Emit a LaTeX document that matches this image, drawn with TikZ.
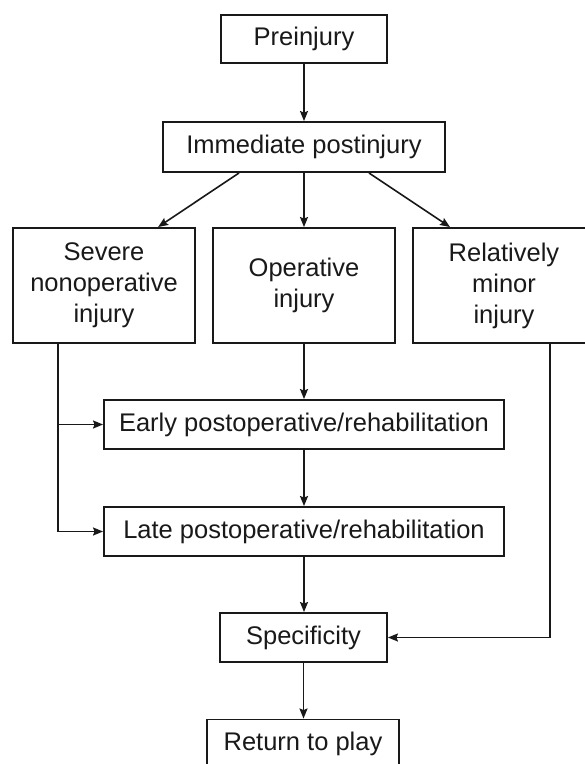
\documentclass[tikz,border=0pt]{standalone}
\usepackage{fontspec}
\setmainfont{Liberation Sans}
\usetikzlibrary{arrows.meta}
\begin{document}
\begin{tikzpicture}[x=1pt,y=-1pt,
  box/.style={draw=black!90, line width=1.9pt, align=center, inner sep=0pt,
    font=\fontsize{25.5}{31}\selectfont, text=black!90},
  arr/.style={line width=1.6pt, draw=black!90, -{Stealth[length=10pt,width=8pt,inset=1.5pt]}},
  ln/.style={line width=1.6pt, draw=black!90}]
\useasboundingbox[fill=white] (0,0) rectangle (585,764);
\node[box, minimum width=166pt, minimum height=48pt] (pre) at (304,39) {Preinjury};
\node[box, minimum width=282pt, minimum height=50pt] (imm) at (304,147) {Immediate postinjury};
\node[box, minimum width=182pt, minimum height=115pt] (sev) at (104,285.5) {Severe\\nonoperative\\injury};
\node[box, minimum width=182pt, minimum height=115pt] (op) at (304,285.5) {Operative\\injury};
\node[box, minimum width=182pt, minimum height=115pt] (rel) at (504,285.5) {Relatively\\minor\\injury};
\node[box, minimum width=400pt, minimum height=49pt] (early) at (304,424.5) {Early postoperative/rehabilitation};
\node[box, minimum width=400pt, minimum height=49pt] (late) at (304,531.5) {Late postoperative/rehabilitation};
\node[box, minimum width=167pt, minimum height=49pt] (spec) at (303.5,637.5) {Specificity};
\node[box, minimum width=192pt, minimum height=49pt] (ret) at (303,744) {Return to play};
\draw[arr] (pre) -- (pre.south |- imm.north);
\draw[arr] ([xshift=77pt]imm.south west) -- ([xshift=146pt]sev.north west);
\draw[arr] (imm.south) -- (imm.south |- op.north);
\draw[arr] ([xshift=-77pt]imm.south east) -- ([xshift=38pt]rel.north west);
\draw[arr] (op.south) -- (op.south |- early.north);
\draw[arr] (early.south) -- (early.south |- late.north);
\draw[arr] (late.south) -- (late.south |- spec.north);
\draw[arr] (spec.south) -- (spec.south |- ret.north);
\coordinate (L) at ([xshift=46pt]sev.south west);
\coordinate (R) at ([xshift=138pt]rel.south west);
\draw[arr] (L) |- (late.west);
\draw[arr] (early.west -| L) -- (early.west);
\draw[arr] (R) |- (spec.east);
\end{tikzpicture}
\end{document}
